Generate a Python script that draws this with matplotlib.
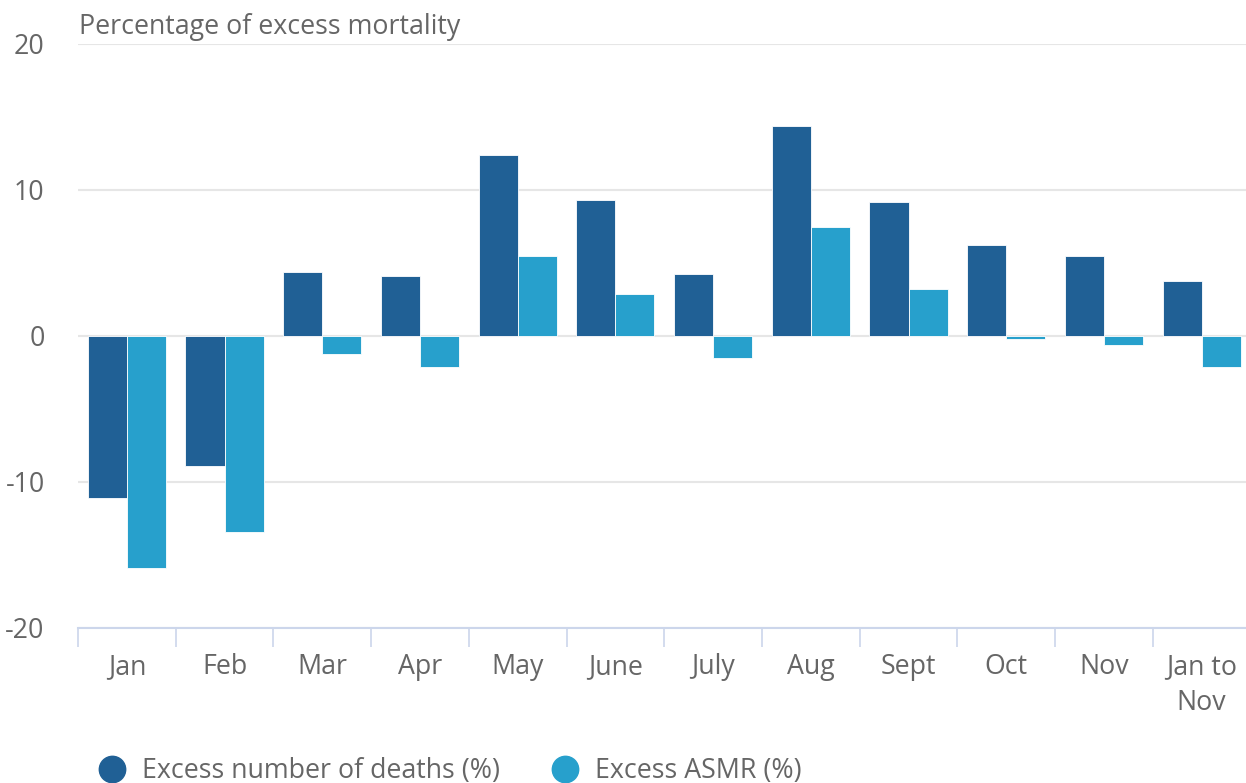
import matplotlib
matplotlib.use("Agg")
import matplotlib.pyplot as plt
import numpy as np
from matplotlib.lines import Line2D

categories = ["Jan", "Feb", "Mar", "Apr", "May", "June", "July", "Aug", "Sept", "Oct", "Nov", "Jan to\nNov"]
excess_deaths = [-11.1, -8.9, 4.4, 4.1, 12.4, 9.3, 4.25, 14.4, 9.15, 6.25, 5.5, 3.8]
excess_asmr = [-15.9, -13.4, -1.2, -2.15, 5.5, 2.9, -1.5, 7.45, 3.2, -0.2, -0.65, -2.15]
series_names = ["Excess number of deaths (%)", "Excess ASMR (%)"]
yticks = [-20, -10, 0, 10, 20]

dark = "#206095"
light = "#27a0cc"
text_col = "#666666"
fs = 19.3

plt.rcParams['font.family'] = ['Open Sans', 'DejaVu Sans']

W, H = 1246, 783
fig = plt.figure(figsize=(W / 100, H / 100), dpi=100)
ax = fig.add_axes([78 / W, 1 - 628 / H, (1250.5 - 78) / W, (628 - 44) / H])

x = np.arange(len(categories))
bw = 0.4
ax.bar(x - bw / 2, excess_deaths, width=bw, color=dark, edgecolor="#ffffff", linewidth=0.6, zorder=3)
ax.bar(x + bw / 2, excess_asmr, width=bw, color=light, edgecolor="#ffffff", linewidth=0.6, zorder=3)

ax.set_xlim(-0.5, len(categories) - 0.5)
ax.set_ylim(-20, 20)
ax.set_yticks(yticks)
ax.set_yticklabels([str(v) for v in yticks])
ax.yaxis.grid(True, color="#e6e6e6", linewidth=1.5, zorder=0)
ax.set_axisbelow(True)

for s in ["top", "right", "left"]:
    ax.spines[s].set_visible(False)
ax.spines["bottom"].set_color("#ccd6eb")
ax.spines["bottom"].set_linewidth(1.5)
ax.spines["bottom"].set_zorder(4)

ax.set_xticks(x)
ax.set_xticklabels(categories, linespacing=1.38)
ax.set_xticks(np.arange(len(categories) + 1) - 0.5, minor=True)
ax.tick_params(axis="x", which="major", length=0, pad=18, labelsize=fs, labelcolor=text_col)
ax.tick_params(axis="x", which="minor", length=14, width=1.2, color="#ccd6eb")
ax.tick_params(axis="y", length=0, pad=24, labelsize=fs, labelcolor=text_col)
for lab in ax.get_xticklabels():
    lab.set_verticalalignment("top")

fig.text(79 / W, 1 - 27 / H, "Percentage of excess mortality", fontsize=fs,
         color=text_col, ha="left", va="center")

# legend
for cx, tx, col, name in [(112, 142, dark, series_names[0]), (565, 595, light, series_names[1])]:
    fig.add_artist(Line2D([cx / W], [1 - 769 / H], marker="o", markersize=19,
                          color=col, linestyle="none", transform=fig.transFigure))
    fig.text(tx / W, 1 - 771 / H, name, fontsize=fs, color=text_col, ha="left", va="center")

fig.savefig("out.png", dpi=100, facecolor="white")
